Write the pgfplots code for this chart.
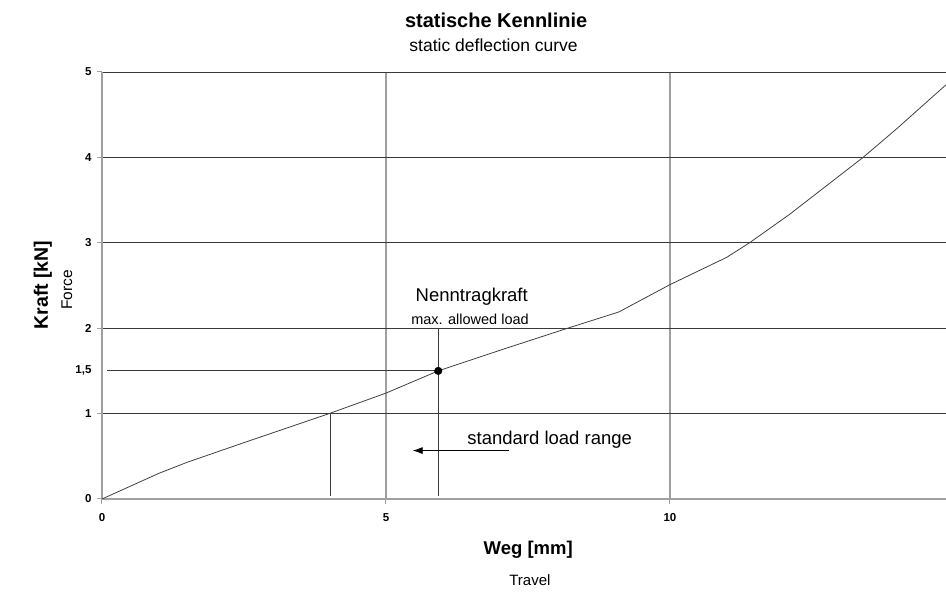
\documentclass[border=0pt]{standalone}
\usepackage{fontspec}
\setmainfont{Liberation Sans}
\usepackage{pgfplots}
\pgfplotsset{compat=1.18}
\usetikzlibrary{arrows.meta}

\definecolor{axgray}{HTML}{A0A0A0}
\definecolor{griddark}{HTML}{3A3A3A}
\definecolor{curve}{HTML}{404040}

\begin{document}
\begin{tikzpicture}[x=1pt,y=1pt]
\begin{axis}[
    name=kl,
    scale only axis,
    width=844pt, height=427pt,
    xmin=0, xmax=14.86,
    ymin=0, ymax=5,
    clip mode=individual,
    axis x line*=bottom,
    axis y line*=left,
    axis line style={axgray, line width=1.3pt, -},
    xtick={0,5,10},
    ytick={0,1,2,3,4,5},
    extra y ticks={1.5},
    extra y tick labels={1{,}5},
    extra y tick style={grid=none, tick style={draw=none}},
    tick align=outside,
    major tick length=5pt,
    tick style={axgray, line width=1pt},
    xmajorgrids, ymajorgrids,
    x grid style={axgray, line width=1.5pt},
    y grid style={griddark, line width=0.9pt},
    /pgf/number format/assume math mode=true,
    ticklabel style={font=\bfseries\fontsize{11.5}{13}\selectfont, text=black},
    xticklabel style={yshift=-6pt},
    yticklabel style={xshift=-2pt},
]
% Kennlinie
\addplot[curve, line width=0.8pt] coordinates {
    (0,0) (1.0,0.30) (1.5,0.43) (2.5,0.66) (4.0,1.00) (5.0,1.24)
    (5.92,1.50) (7.0,1.74) (8.2,2.00) (9.1,2.19) (10.0,2.51)
    (11.0,2.83) (11.4,3.00) (12.1,3.33) (13.4,4.00) (14.0,4.34) (14.86,4.85)
};
% Hilfslinien
\addplot[griddark, line width=0.8pt] coordinates {(0.09,1.5) (5.92,1.5)};
\addplot[griddark, line width=0.8pt] coordinates {(4.02,0.03) (4.02,1.0)};
\addplot[griddark, line width=0.8pt] coordinates {(5.92,0.03) (5.92,2.0)};
\addplot[black, line width=0.8pt, -{Latex[length=10pt,width=7pt]}] coordinates {(7.17,0.567) (5.47,0.567)};
\addplot[only marks, mark=*, mark size=3.8pt, black] coordinates {(5.92,1.5)};

\node[font=\fontsize{18.5}{20}\selectfont] at (axis cs:6.51,2.37) {Nenntragkraft};
\node[font=\fontsize{14.5}{16}\selectfont] at (axis cs:6.48,2.10) {max. allowed load};
\node[font=\fontsize{18.5}{20}\selectfont, anchor=west, inner sep=0pt] at (axis cs:6.43,0.69) {standard load range};

% Titel und Achsenbeschriftung
\node[font=\bfseries\fontsize{20}{22}\selectfont] at (axis description cs:0.467,1.122) {statische Kennlinie};
\node[font=\fontsize{17.5}{19}\selectfont] at (axis description cs:0.464,1.063) {static deflection curve};
\node[font=\bfseries\fontsize{19.5}{21}\selectfont, rotate=90] at (axis description cs:-0.070,0.501) {Kraft [kN]};
\node[font=\fontsize{15.5}{17}\selectfont, rotate=90] at (axis description cs:-0.0415,0.489) {Force};
\node[font=\bfseries\fontsize{18.5}{20}\selectfont] at (axis description cs:0.505,-0.119) {Weg [mm]};
\node[font=\fontsize{15}{17}\selectfont] at (axis description cs:0.507,-0.19) {Travel};

\coordinate (SW) at (rel axis cs:0,0);
\coordinate (NE) at (rel axis cs:1,1);
\end{axis}
\pgfresetboundingbox
\path ([shift={(-102pt,-98pt)}]SW) rectangle ([shift={(0pt,72pt)}]NE);
\end{tikzpicture}
\end{document}
